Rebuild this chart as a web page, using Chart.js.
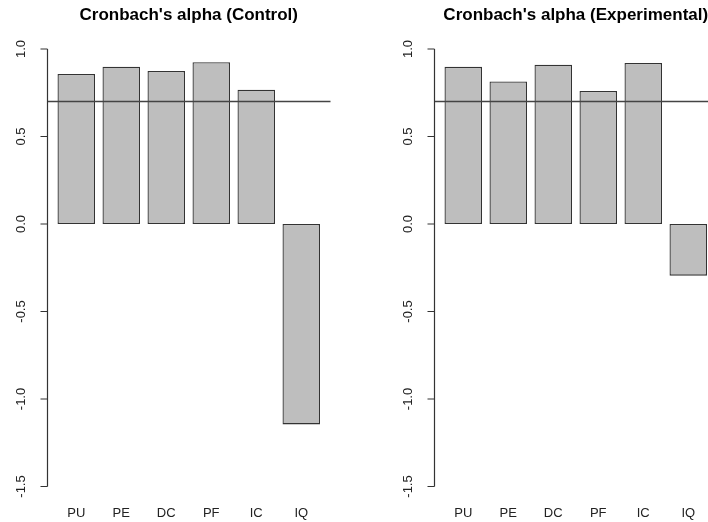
<!DOCTYPE html>
<html>
<head>
<meta charset="utf-8">
<script src="https://cdn.jsdelivr.net/npm/chart.js@4"></script>
<style>
  body { margin: 0; background: #fff; overflow: hidden; width: 708px; height: 522px; position: relative; }
  canvas { position: absolute; top: 0; }
</style>
</head>
<body>
<canvas id="ctrl" width="387" height="522" style="left:0px"></canvas>
<canvas id="expt" width="387" height="522" style="left:387px"></canvas>
<script>
// data
var categories = ['PU', 'PE', 'DC', 'PF', 'IC', 'IQ'];
var controlAlpha = [0.857, 0.899, 0.874, 0.924, 0.767, -1.145];
var experimentalAlpha = [0.898, 0.814, 0.910, 0.760, 0.920, -0.295];
var yTicks = [-1.5, -1.0, -0.5, 0.0, 0.5, 1.0];
var cutoff = 0.7;

var FONT = '"Liberation Sans", Arial, sans-serif';

// draws the R style axis, labels and the abline
var rAxes = {
  id: 'rAxes',
  afterDatasetsDraw: function(chart) {
    var ctx = chart.ctx, a = chart.chartArea, y = chart.scales.y, x = chart.scales.x;
    var slot = (a.right - a.left) / categories.length;
    var left = a.left - 0.15 * slot, right = a.right + 0.15 * slot;
    ctx.save();
    // cutoff line
    var ly = y.getPixelForValue(cutoff);
    ctx.strokeStyle = '#444';
    ctx.lineWidth = 1.4;
    ctx.beginPath();
    ctx.moveTo(left, ly);
    ctx.lineTo(right, ly);
    ctx.stroke();
    // y axis
    var ax = Math.round(left) + 0.5;
    ctx.strokeStyle = '#333';
    ctx.lineWidth = 1.2;
    ctx.beginPath();
    ctx.moveTo(ax, y.getPixelForValue(yTicks[0]));
    ctx.lineTo(ax, y.getPixelForValue(yTicks[yTicks.length - 1]));
    yTicks.forEach(function(t) {
      var ty = y.getPixelForValue(t);
      ctx.moveTo(ax, ty);
      ctx.lineTo(ax - 7, ty);
    });
    ctx.stroke();
    ctx.fillStyle = '#222';
    ctx.font = '13px ' + FONT;
    ctx.textAlign = 'center';
    ctx.textBaseline = 'middle';
    yTicks.forEach(function(t) {
      ctx.save();
      ctx.translate(left - 26, y.getPixelForValue(t));
      ctx.rotate(-Math.PI / 2);
      ctx.fillText(t.toFixed(1), 0, 0);
      ctx.restore();
    });
    // category labels
    categories.forEach(function(c, i) {
      ctx.fillText(c, x.getPixelForValue(i), 513);
    });
    ctx.restore();
  }
};

function makeChart(id, title, values) {
  return new Chart(document.getElementById(id), {
    type: 'bar',
    data: {
      labels: categories,
      datasets: [{
        data: values,
        backgroundColor: '#bebebe',
        borderColor: '#333',
        borderWidth: 1.3,
        borderSkipped: false,
        barPercentage: 1 / 1.2,
        categoryPercentage: 1
      }]
    },
    options: {
      responsive: false,
      animation: false,
      layout: { padding: { left: 53.75, right: 63.25, top: 0, bottom: 18 } },
      scales: {
        x: { display: false },
        y: { display: false, min: -1.6, max: 1.1 }
      },
      plugins: {
        legend: { display: false },
        tooltip: { enabled: false },
        title: {
          display: true,
          text: title,
          color: '#000',
          font: { family: FONT, size: 17, weight: 'bold', lineHeight: 1.2 },
          padding: { top: 4.8, bottom: 6.3 }
        }
      }
    },
    plugins: [rAxes]
  });
}

makeChart('ctrl', "Cronbach's alpha (Control)", controlAlpha);
makeChart('expt', "Cronbach's alpha (Experimental)", experimentalAlpha);
</script>
</body>
</html>
